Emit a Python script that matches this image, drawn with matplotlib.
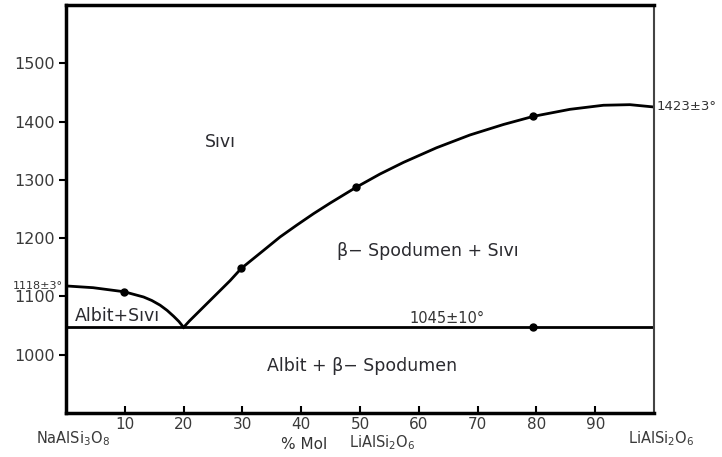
import matplotlib
matplotlib.use('Agg')
import matplotlib.pyplot as plt

# Liquidus curves (x = mol % LiAlSi2O6, T in °C)
left_x = [0, 4.6, 9.9, 13.2, 14.6, 16.0, 17.2, 18.3, 19.2, 20.0]
left_T = [1118, 1115, 1108, 1099, 1093, 1085, 1076, 1066, 1057, 1047]
right_x = [20.0, 21.0, 22.2, 25.1, 27.9, 29.8, 33.6, 36.4, 39.2, 42.1, 44.9, 49.3,
           53.4, 57.4, 63.0, 68.7, 74.4, 79.5, 85.7, 91.4, 95.9, 100.0]
right_T = [1047, 1058, 1070, 1099, 1127, 1148, 1179, 1202, 1222, 1242, 1260, 1287,
           1310, 1330, 1355, 1377, 1395, 1409, 1421, 1428, 1429, 1425]
solidus_x = [0, 100]
solidus_T = [1047, 1047]
# Measured points
pts_x = [9.9, 29.8, 49.3, 79.5, 79.5]
pts_T = [1108, 1148, 1288, 1410, 1047]

xticks = [10, 20, 30, 40, 50, 60, 70, 80, 90]
yticks = [1000, 1100, 1200, 1300, 1400, 1500]

fig = plt.figure(figsize=(7.22, 4.57), dpi=100)
ax = fig.add_axes([66/722, 44/457, (654-66)/722, (413-5)/457])
ax.set_xlim(0, 100)
ax.set_ylim(900, 1600)

ax.plot(left_x, left_T, color='black', lw=2)
ax.plot(right_x, right_T, color='black', lw=2)
ax.plot(solidus_x, solidus_T, color='black', lw=2)
ax.plot(pts_x, pts_T, 'o', color='black', ms=5)

ax.set_xticks(xticks)
ax.set_xticklabels([str(v) for v in xticks])
ax.set_yticks(yticks)
ax.set_yticklabels([str(v) for v in yticks])
ax.tick_params(axis='x', direction='in', length=5, width=1.5, pad=3,
               labelsize=11, labelcolor='#3a3a3a')
ax.tick_params(axis='y', direction='out', length=5, width=1.5, pad=3,
               labelsize=11.5, labelcolor='#3a3a3a')
for s in ['left', 'bottom', 'top']:
    ax.spines[s].set_linewidth(2.5)
ax.spines['right'].set_linewidth(1.5)
ax.spines['right'].set_color('#444444')

tc = '#2b2b30'
ax.text(23.6, 1365, 'Sıvı', fontsize=12.5, color=tc, ha='left', va='center')
ax.text(61.6, 1178, 'β− Spodumen + Sıvı', fontsize=12.5, color=tc,
        ha='center', va='center')
ax.text(1.5, 1066, 'Albit+Sıvı', fontsize=12.5, color=tc, ha='left', va='center')
ax.text(50.3, 980, 'Albit + β− Spodumen', fontsize=12.5, color=tc,
        ha='center', va='center')
ax.text(64.8, 1049, '1045±10°', fontsize=10.5, color='#333333',
        ha='center', va='bottom')
ax.text(-0.6, 1118, '1118±3°', fontsize=8, color='#333333',
        ha='right', va='center', clip_on=False)
ax.text(100.5, 1425, '1423±3°', fontsize=9.5, color='#333333',
        ha='left', va='center', clip_on=False)

fig.text(73/722, 1 - 443/457, r'NaAlSi$_3$O$_8$', fontsize=10.5, color='#3a3a3a',
         ha='center', va='baseline')
fig.text(661/722, 1 - 443/457, r'LiAlSi$_2$O$_6$', fontsize=10.5, color='#3a3a3a',
         ha='center', va='baseline')
fig.text(304/722, 1 - 449/457, '% Mol', fontsize=11, color='#333333',
         ha='center', va='baseline')
fig.text(382/722, 1 - 447/457, r'LiAlSi$_2$O$_6$', fontsize=10.5, color='#3a3a3a',
         ha='center', va='baseline')

fig.savefig('out.png', dpi=100)
